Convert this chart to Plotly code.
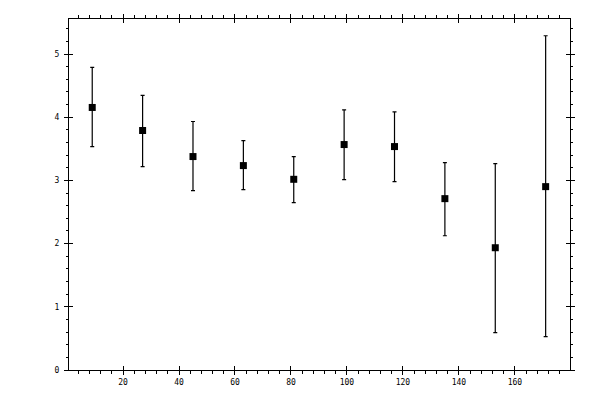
import plotly.graph_objects as go

# bin centres and measured means with asymmetric errors
bin_centres = [9, 27, 45, 63, 81, 99, 117, 135, 153, 171]
means = [4.155, 3.79, 3.378, 3.235, 3.018, 3.568, 3.536, 2.712, 1.935, 2.902]
err_plus = [0.635, 0.555, 0.555, 0.396, 0.36, 0.549, 0.549, 0.571, 1.332, 2.388]
err_minus = [0.619, 0.571, 0.539, 0.381, 0.37, 0.555, 0.555, 0.587, 1.343, 2.374]

x_range = [0.7, 179.7]
y_range = [0, 5.555]

fig = go.Figure()

fig.add_trace(go.Scatter(
    x=bin_centres, y=means, mode='markers',
    marker=dict(symbol='square', size=7, color='black'),
    error_y=dict(type='data', symmetric=False, array=err_plus, arrayminus=err_minus,
                 color='black', thickness=1.2, width=2),
    showlegend=False,
))

# dummy trace so the overlay axes (inside half of major ticks) get drawn
fig.add_trace(go.Scatter(x=[None], y=[None], xaxis='x2', yaxis='y2',
                         showlegend=False, hoverinfo='skip'))

tick_font = dict(family='DejaVu Sans Mono', size=8, color='black')

# page body has an 8px margin, so the figure margins are shifted to compensate
fig.update_layout(
    width=600, height=400,
    margin=dict(l=61, r=38, t=11, b=38),
    paper_bgcolor='white', plot_bgcolor='white',
    xaxis=dict(range=x_range, tick0=0, dtick=20, ticks='outside', ticklen=4,
               tickcolor='black', tickwidth=1, showline=True, linecolor='black',
               linewidth=1, mirror='allticks', showgrid=False, zeroline=False,
               tickfont=tick_font, ticklabelstandoff=0, automargin=False,
               minor=dict(tick0=0, dtick=4, ticks='outside', ticklen=3,
                          tickcolor='black', tickwidth=1, showgrid=False)),
    yaxis=dict(range=y_range, tick0=0, dtick=1, ticks='outside', ticklen=4,
               tickcolor='black', tickwidth=1, showline=True, linecolor='black',
               linewidth=1, mirror='allticks', showgrid=False, zeroline=False,
               tickfont=tick_font, ticklabelstandoff=3, automargin=False,
               minor=dict(tick0=0, dtick=0.2, ticks='outside', ticklen=2,
                          tickcolor='black', tickwidth=1, showgrid=False)),
    xaxis2=dict(range=x_range, overlaying='x', tick0=0, dtick=20, ticks='inside',
                ticklen=4, tickcolor='black', tickwidth=1, mirror='allticks',
                showticklabels=False, showgrid=False, zeroline=False, showline=False),
    yaxis2=dict(range=y_range, overlaying='y', tick0=0, dtick=1, ticks='inside',
                ticklen=4, tickcolor='black', tickwidth=1, mirror='allticks',
                showticklabels=False, showgrid=False, zeroline=False, showline=False),
)

fig.write_html("out.html")
